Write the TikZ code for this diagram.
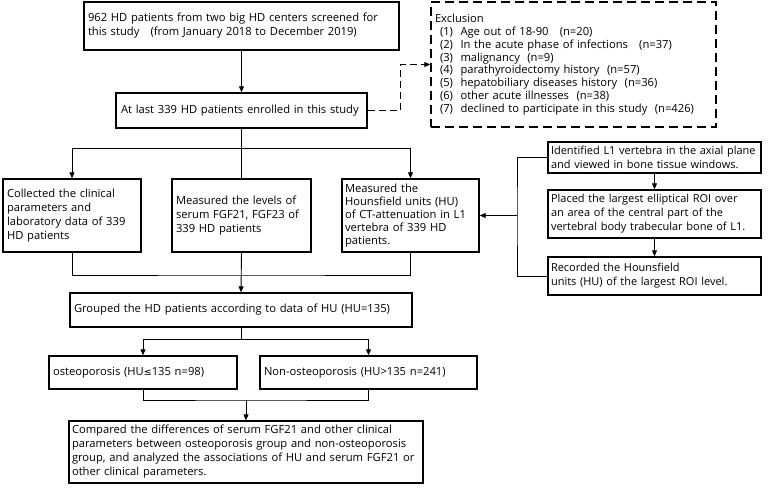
\documentclass[tikz,border=0pt]{standalone}
\usepackage{fontspec}
\setmainfont{Open Sans}
\newfontfamily\dvfont{DejaVu Sans}
\usetikzlibrary{arrows.meta}
\begin{document}
\begin{tikzpicture}[x=1pt,y=-1pt,
  box/.style={draw,line width=1.4pt,align=left,inner xsep=5pt,inner ysep=2pt,font=\fontsize{11.2}{14}\selectfont},
  conn/.style={line width=0.9pt},
  arr/.style={conn,-{Triangle[length=6pt,width=5pt]}},
  darr/.style={conn,dash pattern=on 7pt off 4pt,-{Triangle[length=6pt,width=5pt]}}]
\useasboundingbox (0,0) rectangle (768,489);
% top boxes
\node[box,text width=307pt,inner xsep=4pt,minimum height=48pt] (b1) at (241.5,26)
  {962 HD patients from two big HD centers screened for\\this study\quad(from January 2018 to December 2019)};
\node[box,text width=241pt,minimum height=35pt] (b2) at (241.5,110.5)
  {At last 339 HD patients enrolled in this study};
\node[box,dash pattern=on 9pt off 5pt,text width=277pt,inner xsep=4pt,minimum height=125pt,font=\fontsize{11.2}{12.8}\selectfont] (ex) at (573.5,64.5)
  {Exclusion\\
  \hspace*{5pt}(1)\ \ Age out of 18-90\ \ \ (n=20)\\
  \hspace*{5pt}(2)\ \ In the acute phase of infections\ \ \ (n=37)\\
  \hspace*{5pt}(3)\ \ malignancy\ \ (n=9)\\
  \hspace*{5pt}(4)\ \ parathyroidectomy history\ \ (n=57)\\
  \hspace*{5pt}(5)\ \ hepatobiliary diseases history\ \ (n=36)\\
  \hspace*{5pt}(6)\ \ other acute illnesses\ \ (n=38)\\
  \hspace*{5pt}(7)\ \ declined to participate in this study\ \ (n=426)};
% three measurement boxes
\node[box,text width=130pt,inner xsep=4pt,minimum height=73pt] (bA) at (72,215.5)
  {Collected the clinical\\parameters and\\laboratory data of 339\\HD patients};
\node[box,text width=131pt,inner xsep=4pt,minimum height=73pt] (bB) at (241.5,215.5)
  {Measured the levels of\\serum FGF21, FGF23 of\\339 HD patients};
\node[box,text width=131pt,inner xsep=3pt,minimum height=73pt,font=\fontsize{11.2}{13}\selectfont] (bC) at (410.5,215.5)
  {Measured the\\Hounsfield units\,\,(HU)\\of CT-attenuation in L1\\vertebra of 339 HD\\patients.};
% right chain
\node[box,text width=207pt,inner xsep=3pt,minimum height=31pt,font=\fontsize{11}{14}\selectfont] (r1) at (654.5,157.5)
  {Identified L1 vertebra in the axial plane\\and viewed in bone tissue windows.};
\node[box,text width=207pt,inner xsep=3pt,minimum height=48pt,font=\fontsize{11}{14}\selectfont] (r2) at (654.5,214)
  {Placed the largest elliptical ROI over\\an area of the central part of the\\vertebral body trabecular bone of L1.};
\node[box,text width=207pt,inner xsep=3pt,minimum height=38pt,font=\fontsize{11}{14}\selectfont] (r3) at (654.5,276)
  {Recorded the Hounsfield\\units\,\,(HU)\,\,of the largest ROI level.};
% grouping
\node[box,text width=334pt,inner xsep=4pt,minimum height=34pt] (grp) at (241,310)
  {Grouped the HD patients according to data of HU\,\,(HU=135)};
\node[box,text width=180pt,inner xsep=4pt,minimum height=33pt] (ost) at (143,372.5)
  {osteoporosis\,\,(HU{\dvfont\fontsize{9.5}{10}\selectfont ≤}135 n=98)};
\node[box,text width=209pt,inner xsep=4pt,minimum height=33pt] (non) at (368.5,372.5)
  {Non-osteoporosis\,\,(HU>135 n=241)};
\node[box,text width=348pt,inner xsep=3pt,minimum height=62pt] (fin) at (246,452)
  {Compared the differences of serum FGF21 and other clinical\\parameters between osteoporosis group and non-osteoporosis\\group, and analyzed the associations of HU and serum FGF21 or\\other clinical parameters.};
% coordinates
\coordinate (dj) at (400,110.5);
\coordinate (sp) at (241.5,148);
\coordinate (jn) at (241.5,275);
\coordinate (brk) at (517,215.5);
\coordinate (sp2) at (241,339);
\coordinate (jn2) at (246,400);
% connectors
\draw[arr] (b1.south) -- (b2.north);
\draw[darr] (b2.east) -- (dj) |- (ex.west);
\draw[conn] (b2.south) -- (bB.north);
\draw[arr] (sp) -| (bA.north);
\draw[arr] (sp) -| (bC.north);
\draw[conn] (bA.south) |- (jn) -| (bC.south);
\draw[arr] (bB.south) -- (grp.north);
\draw[arr] (r1.south) -- (r2.north);
\draw[arr] (r2.south) -- (r3.north);
\draw[conn] (r1.west) -| (brk) |- (r3.west);
\draw[arr] (brk) -- (bC.east);
\draw[conn] (grp.south) -- (sp2);
\draw[arr] (sp2) -| (ost.north);
\draw[arr] (sp2) -| (non.north);
\draw[conn] (ost.south) |- (jn2) -| (non.south);
\draw[arr] (jn2) -- (fin.north);
\end{tikzpicture}
\end{document}
